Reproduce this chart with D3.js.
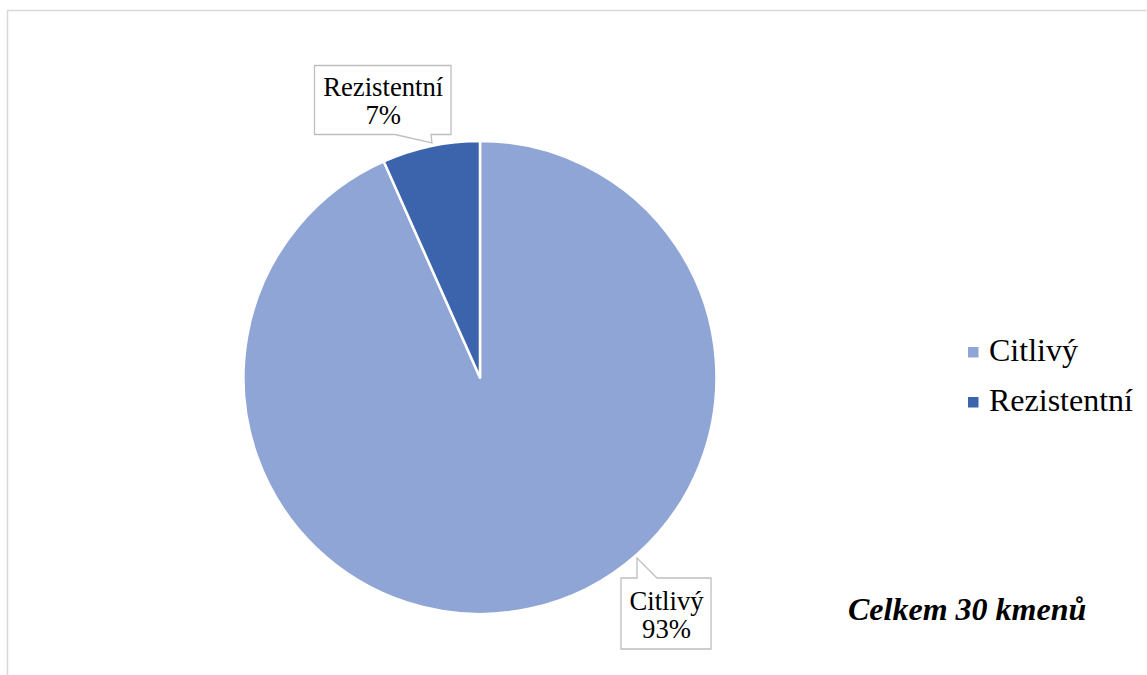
<!DOCTYPE html>
<html><head><meta charset="utf-8">
<script src="https://cdn.jsdelivr.net/npm/d3@7"></script>
<style>body{margin:0;background:#fff}svg{display:block}</style>
</head><body>
<svg id="c" width="1147" height="675"></svg>
<script>
const categories = ["Citlivý", "Rezistentní"];
const counts = [28, 2];
const percentLabels = ["93%", "7%"];
const colors = ["#8FA5D5", "#3C64AC"];
const totalLabel = "Celkem 30 kmenů";

const svg = d3.select("#c");
const font = "'Liberation Serif','Times New Roman',serif";

// chart border
svg.append("path").attr("d", "M7.5,680 L7.5,10.5 L1146.5,10.5")
  .attr("fill", "none").attr("stroke", "#d9d9d9").attr("stroke-width", 1.5);

const cx = 480, cy = 377.5, r = 236.5;
const pie = d3.pie().sort(null).value(d => d)(counts);
const arc = d3.arc().innerRadius(0).outerRadius(r);
const g = svg.append("g").attr("transform", `translate(${cx},${cy})`);
g.selectAll("path").data(pie).join("path")
  .attr("d", arc).attr("fill", (d, i) => colors[i])
  .attr("stroke", "#fff").attr("stroke-width", 2.5).attr("stroke-linejoin", "round");

// callouts
function callout(box, pointer, lines, baselines) {
  const [x0, y0, x1, y1] = box;
  svg.append("path").attr("d", pointer)
    .attr("fill", "#fff").attr("stroke", "#bfbfbf").attr("stroke-width", 1.3);
  const t = svg.append("text").attr("font-family", font).attr("font-size", 26.7)
    .attr("fill", "#000").attr("text-anchor", "middle");
  lines.forEach((l, i) => t.append("tspan").attr("x", (x0 + x1) / 2 + 0.5).attr("y", baselines[i]).text(l));
}
// Rezistentní callout (box with pointer at bottom)
callout([314.5, 65.5, 451, 134.5],
  "M314.5,65.5 L451,65.5 L451,134.5 L431,134.5 L432,143 L395,134.5 L314.5,134.5 Z",
  [categories[1], percentLabels[1]], [96, 124]);
// Citlivý callout (box with pointer at top)
callout([621, 578, 711, 649],
  "M621,578 L637,578 L637,558 L657,578 L711,578 L711,649 L621,649 Z",
  [categories[0], percentLabels[0]], [610, 638]);

// legend
const lg = svg.append("g");
categories.forEach((c, i) => {
  const y = 352 + i * 50;
  lg.append("rect").attr("x", 968).attr("y", y - 5).attr("width", 10.5).attr("height", 10.5).attr("fill", colors[i]);
  lg.append("text").attr("x", 989).attr("y", y + 8.5).attr("font-family", font)
    .attr("font-size", 32).attr("fill", "#000").text(c);
});

// total label
svg.append("text").attr("x", 848).attr("y", 620).attr("font-family", font)
  .attr("font-size", 32).attr("font-weight", "bold").attr("font-style", "italic")
  .attr("fill", "#000").text(totalLabel);
</script>
</body></html>
